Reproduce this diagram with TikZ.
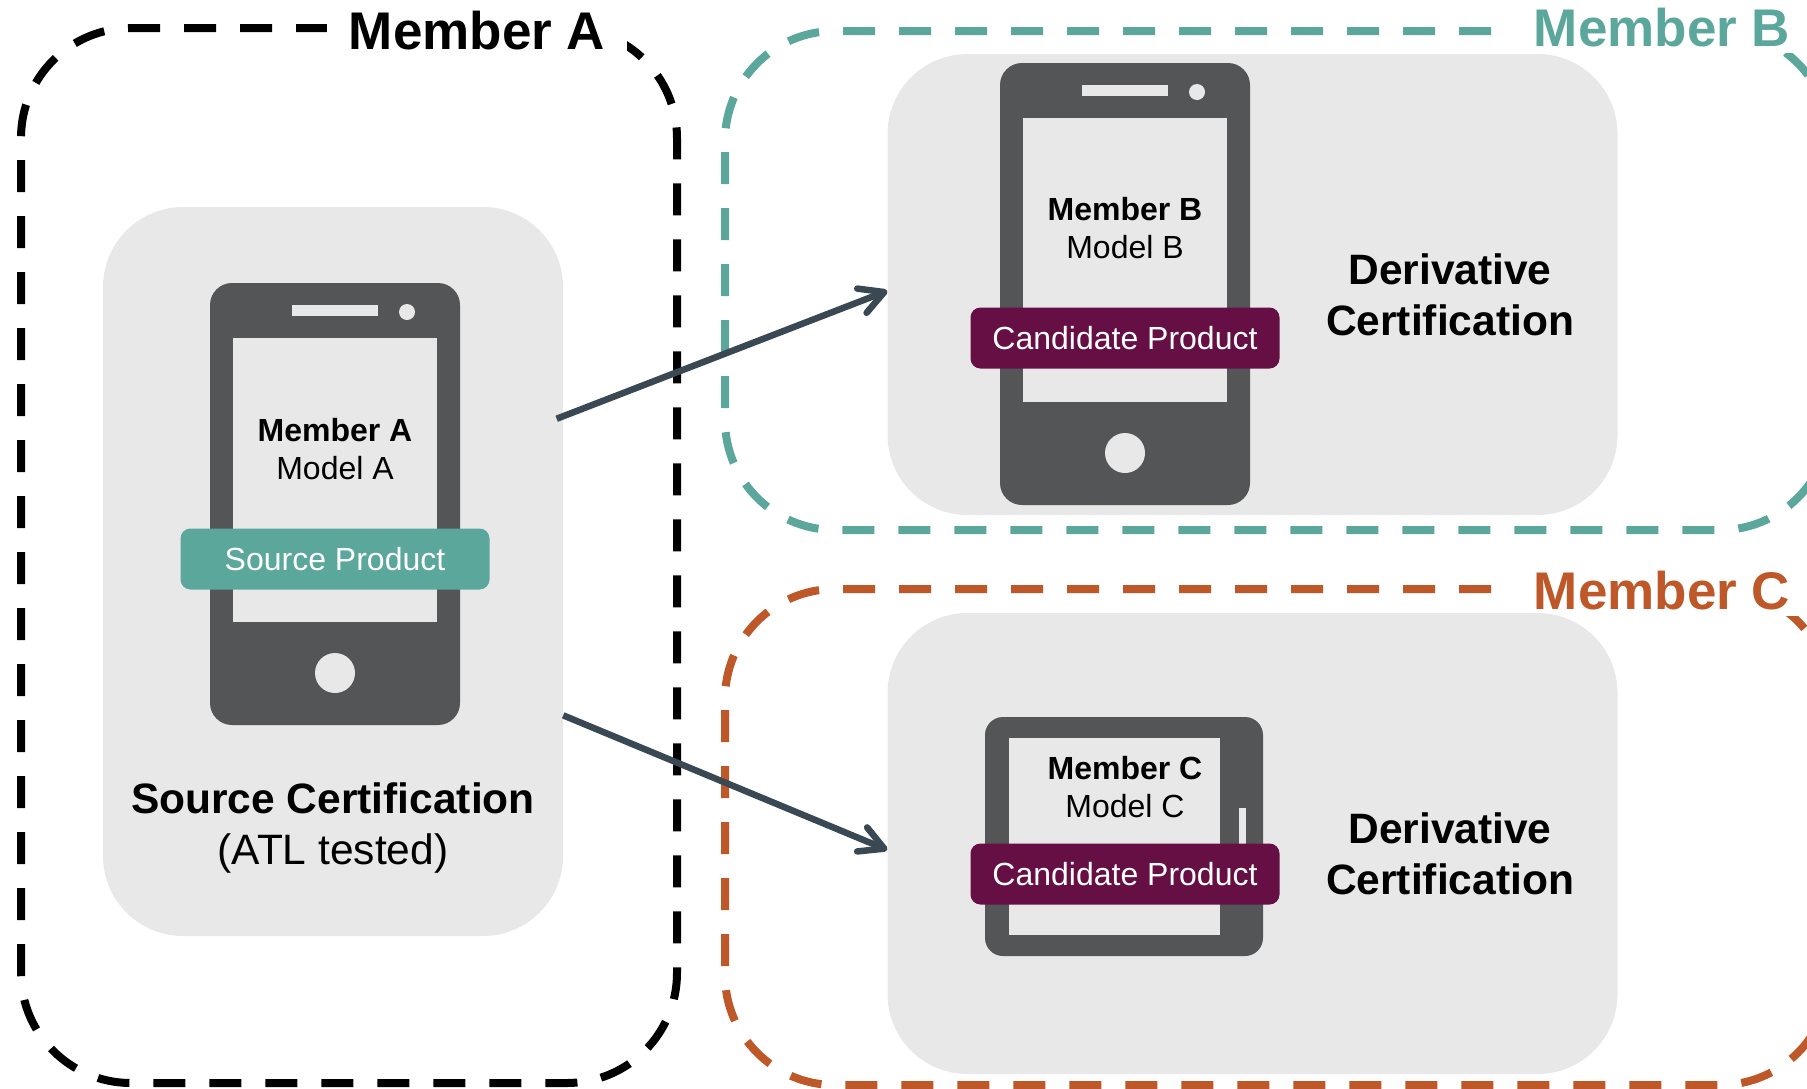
\documentclass[tikz,border=0pt]{standalone}
\usepackage{fontspec}
\setmainfont{Liberation Sans}
\usetikzlibrary{arrows.meta}

\definecolor{memberb}{HTML}{5BA79C}
\definecolor{memberc}{HTML}{BF5829}
\definecolor{plum}{HTML}{650F45}
\definecolor{panelgray}{HTML}{E8E8E8}
\definecolor{devicegray}{HTML}{545557}
\definecolor{arrowslate}{HTML}{3A4854}

\begin{document}
\begin{tikzpicture}[x=1pt, y=-1pt,
    group/.style={draw, line width=8pt, dash pattern=on 32pt off 24pt, inner sep=0pt, rounded corners=110pt},
    grouptitle/.style={fill=white, inner sep=0pt, minimum height=50pt, font=\fontsize{53}{56}\selectfont\bfseries},
    panel/.style={fill=panelgray, inner sep=0pt, rounded corners=80pt},
    device/.style={fill=devicegray, inner sep=0pt, rounded corners=22pt},
    screen/.style={fill=panelgray, inner sep=0pt},
    dot/.style={circle, fill=panelgray, inner sep=0pt},
    tag/.style={text=white, inner sep=0pt, minimum width=309pt, minimum height=61pt, rounded corners=10pt, font=\fontsize{32}{38}\selectfont},
    model/.style={align=center, font=\fontsize{32}{38}\selectfont},
    cert/.style={align=center, font=\fontsize{42.5}{51}\selectfont},
    conn/.style={draw=arrowslate, line width=6.5pt, -{Straight Barb[length=24pt, width=26pt, line width=6.5pt, round]}}]

  \useasboundingbox (0,0) rectangle (1807,1088);
  \clip (0,0) rectangle (1807,1088);

  \node[group, dash phase=41pt, minimum width=656pt, minimum height=1055pt] (groupa) at (349,555.5) {};
  \node[group, dash phase=51pt, draw=memberb, minimum width=1105pt, minimum height=499pt] (groupb) at (1277.5,280.5) {};
  \node[group, dash phase=51pt, draw=memberc, minimum width=1105pt, minimum height=496pt] (groupc) at (1277.5,837) {};

  \node[grouptitle, minimum width=300pt] (titlea) at (477,31) {Member A};
  \node[grouptitle, minimum width=310pt, text=memberb] (titleb) at (1662,28) {Member B};
  \node[grouptitle, minimum width=310pt, text=memberc] (titlec) at (1662,591) {Member C};

  \node[panel, minimum width=730pt, minimum height=461pt] (panelb) at (1252.5,284.5) {};
  \node[panel, minimum width=730pt, minimum height=461pt] (panelc) at (1252.5,843.5) {};
  \node[panel, minimum width=460pt, minimum height=729pt] (panela) at (333,571.5) {};

  \foreach \name/\x/\y in {phonea/335/504, phoneb/1125/284} {
    \node[device, minimum width=250pt, minimum height=442pt] (\name) at (\x,\y) {};
    \node[screen, minimum width=204pt, minimum height=284pt] (\name screen) at (\x,\y-24) {};
    \node[screen, minimum width=86pt, minimum height=11pt] (\name speaker) at (\x,\y-193.5) {};
    \node[dot, minimum size=16pt] (\name camera) at (\x+72,\y-192) {};
    \node[dot, minimum size=40pt] (\name home) at (\x,\y+169) {};
  }

  \node[device, rounded corners=18pt, minimum width=278pt, minimum height=239pt] (tablet) at (1124,836.5) {};
  \node[screen, minimum width=211pt, minimum height=197pt] (tabletscreen) at (1114.5,836.5) {};
  \node[screen, minimum width=7pt, minimum height=50pt] (tabletbutton) at (1242.5,833) {};

  \node[model] (modela) at (335,449) {\textbf{Member A}\\Model A};
  \node[model] (modelb) at (1125,228) {\textbf{Member B}\\Model B};
  \node[model] (modelc) at (1125,787) {\textbf{Member C}\\Model C};

  \node[tag, fill=memberb] (taga) at (335,559) {Source Product};
  \node[tag, fill=plum] (tagb) at (1125,338) {Candidate Product};
  \node[tag, fill=plum] (tagc) at (1125,874) {Candidate Product};

  \node[cert] (certa) at (333,828) {\textbf{Source Certification}\\(ATL tested)};
  \node[cert] (certb) at (1450,294.5) {\textbf{Derivative}\\\textbf{Certification}};
  \node[cert] (certc) at (1450,854) {\textbf{Derivative}\\\textbf{Certification}};

  \draw[conn, shorten <=-7pt] (panela.34) -- (panelb.181);
  \draw[conn] (panela.-32) -- (panelc.181);

\end{tikzpicture}
\end{document}
